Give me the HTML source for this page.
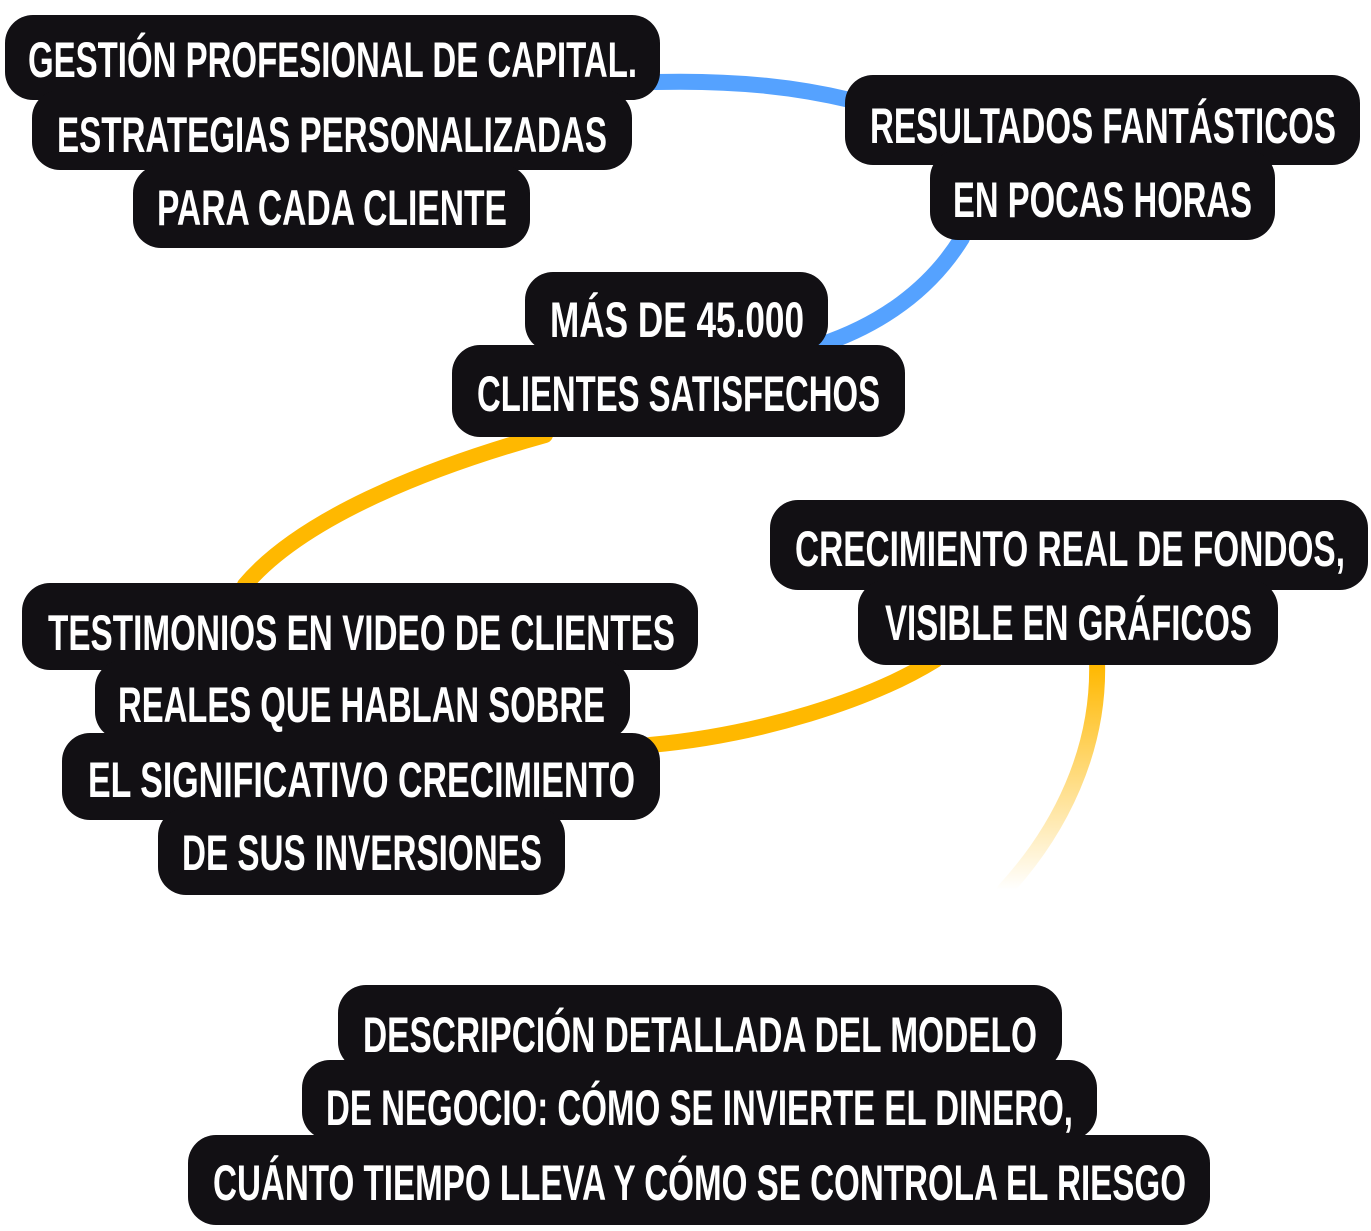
<!DOCTYPE html>
<html><head><meta charset="utf-8"><style>
html,body{margin:0;padding:0;background:#fff;}
svg{display:block}
text{font-family:"Liberation Sans Narrow","Liberation Sans",sans-serif;font-weight:bold;font-size:50px;fill:#fff;}
</style></head><body>
<svg width="1371" height="1231" viewBox="0 0 1371 1231" xmlns="http://www.w3.org/2000/svg">
<defs>
<linearGradient id="fade" x1="0" y1="665" x2="0" y2="890" gradientUnits="userSpaceOnUse">
<stop offset="0" stop-color="#ffb800"/><stop offset="1" stop-color="#ffb800" stop-opacity="0"/>
</linearGradient>
</defs>
<g fill="none" stroke-width="16" stroke-linecap="round">
<path d="M655 82 C740 80 800 88 850 100" stroke="#55a2ff"/>
<path d="M962 238 C930 290 880 325 820 345" stroke="#55a2ff"/>
<path d="M545 435 C420 470 300 520 245 585" stroke="#ffb800"/>
<path d="M650 745 C760 735 870 700 935 660" stroke="#ffb800"/>
<path d="M1097 660 C1100 750 1060 830 1005 890" stroke="url(#fade)"/>
</g>
<g fill="#121014">
<rect x="5" y="15" width="655" height="85" rx="28"/>
<rect x="32" y="90" width="600" height="80" rx="28"/>
<rect x="133" y="165" width="397" height="83" rx="28"/>
<rect x="845" y="75" width="515" height="90" rx="28"/>
<rect x="930" y="150" width="345" height="90" rx="28"/>
<rect x="525" y="272" width="303" height="80" rx="28"/>
<rect x="452" y="345" width="453" height="92" rx="28"/>
<rect x="770" y="500" width="598" height="90" rx="28"/>
<rect x="858" y="580" width="420" height="85" rx="28"/>
<rect x="22" y="583" width="676" height="87" rx="28"/>
<rect x="95" y="660" width="535" height="80" rx="28"/>
<rect x="62" y="733" width="598" height="87" rx="28"/>
<rect x="158" y="808" width="407" height="87" rx="28"/>
<rect x="338" y="985" width="724" height="85" rx="28"/>
<rect x="302" y="1060" width="795" height="80" rx="28"/>
<rect x="188" y="1135" width="1022" height="90" rx="28"/>
</g>
<g lengthAdjust="spacingAndGlyphs">
<text x="28" y="77" textLength="609" lengthAdjust="spacingAndGlyphs">GESTIÓN PROFESIONAL DE CAPITAL.</text>
<text x="57" y="152" textLength="550" lengthAdjust="spacingAndGlyphs">ESTRATEGIAS PERSONALIZADAS</text>
<text x="157" y="225" textLength="350" lengthAdjust="spacingAndGlyphs">PARA CADA CLIENTE</text>
<text x="870" y="143" textLength="466" lengthAdjust="spacingAndGlyphs">RESULTADOS FANTÁSTICOS</text>
<text x="953" y="217" textLength="299" lengthAdjust="spacingAndGlyphs">EN POCAS HORAS</text>
<text x="550" y="337" textLength="254" lengthAdjust="spacingAndGlyphs">MÁS DE 45.000</text>
<text x="477" y="411" textLength="403" lengthAdjust="spacingAndGlyphs">CLIENTES SATISFECHOS</text>
<text x="795" y="566" textLength="550" lengthAdjust="spacingAndGlyphs">CRECIMIENTO REAL DE FONDOS,</text>
<text x="885" y="640" textLength="367" lengthAdjust="spacingAndGlyphs">VISIBLE EN GRÁFICOS</text>
<text x="48" y="650" textLength="627" lengthAdjust="spacingAndGlyphs">TESTIMONIOS EN VIDEO DE CLIENTES</text>
<text x="118" y="722" textLength="487" lengthAdjust="spacingAndGlyphs">REALES QUE HABLAN SOBRE</text>
<text x="88" y="797" textLength="547" lengthAdjust="spacingAndGlyphs">EL SIGNIFICATIVO CRECIMIENTO</text>
<text x="182" y="870" textLength="360" lengthAdjust="spacingAndGlyphs">DE SUS INVERSIONES</text>
<text x="363" y="1052" textLength="674" lengthAdjust="spacingAndGlyphs">DESCRIPCIÓN DETALLADA DEL MODELO</text>
<text x="326" y="1125" textLength="747" lengthAdjust="spacingAndGlyphs">DE NEGOCIO: CÓMO SE INVIERTE EL DINERO,</text>
<text x="213" y="1200" textLength="973" lengthAdjust="spacingAndGlyphs">CUÁNTO TIEMPO LLEVA Y CÓMO SE CONTROLA EL RIESGO</text>
</g>
</svg>
</body></html>
